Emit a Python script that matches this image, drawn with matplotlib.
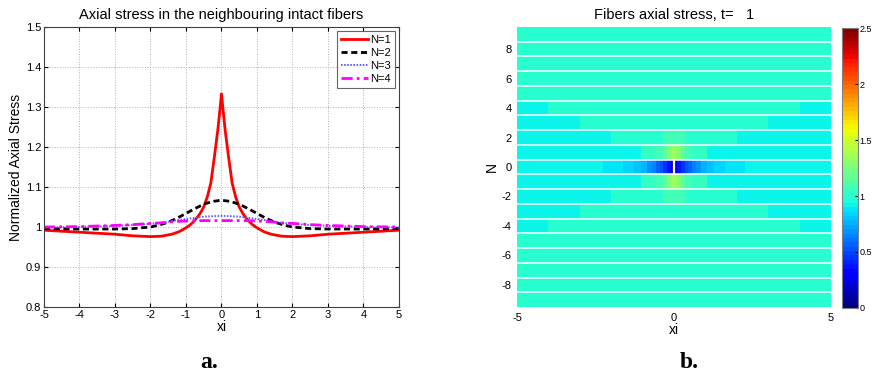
import matplotlib
matplotlib.use('Agg')
import matplotlib.pyplot as plt
from matplotlib.ticker import FuncFormatter
import numpy as np

plt.rcParams['font.family'] = ['Liberation Sans', 'DejaVu Sans']
plt.rcParams['axes.unicode_minus'] = False

# --- panel a : courbes de contrainte axiale ---
xi_n1 = [-5, -4, -3, -2.5, -2, -1.7, -1.4, -1.2, -1, -0.9, -0.8, -0.7, -0.6, -0.5,
         -0.4, -0.3, -0.2, -0.1, -0.05, 0, 0.05, 0.1, 0.2, 0.3, 0.4, 0.5, 0.6, 0.7,
         0.8, 0.9, 1, 1.2, 1.4, 1.7, 2, 2.5, 3, 4, 5]
stress_n1 = [0.992, 0.987, 0.982, 0.978, 0.976, 0.977, 0.982, 0.988, 0.998, 1.004,
             1.012, 1.022, 1.034, 1.05, 1.075, 1.11, 1.175, 1.245, 1.288, 1.333, 1.288,
             1.245, 1.175, 1.11, 1.075, 1.05, 1.034, 1.022, 1.012, 1.004, 0.998, 0.988,
             0.982, 0.977, 0.976, 0.978, 0.982, 0.987, 0.992]

xi_n = [-5, -4, -3, -2.5, -2, -1.75, -1.5, -1.25, -1, -0.75, -0.5, -0.25, 0,
        0.25, 0.5, 0.75, 1, 1.25, 1.5, 1.75, 2, 2.5, 3, 4, 5]
stress_n2 = [0.996, 0.995, 0.995, 0.996, 1.0, 1.005, 1.012, 1.022, 1.034, 1.046,
             1.057, 1.064, 1.067, 1.064, 1.057, 1.046, 1.034, 1.022, 1.012, 1.005,
             1.0, 0.996, 0.995, 0.995, 0.996]
stress_n3 = [0.999, 1.0, 1.003, 1.005, 1.008, 1.010, 1.013, 1.017, 1.020, 1.023,
             1.026, 1.027, 1.028, 1.027, 1.026, 1.023, 1.020, 1.017, 1.013, 1.010,
             1.008, 1.005, 1.003, 1.0, 0.999]
stress_n4 = [1.0, 1.001, 1.004, 1.006, 1.009, 1.010, 1.012, 1.014, 1.015, 1.016,
             1.016, 1.016, 1.016, 1.016, 1.016, 1.016, 1.015, 1.014, 1.012, 1.010,
             1.009, 1.006, 1.004, 1.001, 1.0]

# --- panel b : carte des contraintes par fibre ---
fibres = list(range(-9, 10))
# bords des cellules en xi (côté positif, symétrique)
bords_xi = [0.05, 0.11, 0.22, 0.36, 0.46, 0.58, 0.70, 0.86, 1.05, 1.27, 1.62, 2.0,
            2.26, 3.0, 4.0, 5.0]
# valeurs de |N| = 0..9, du centre vers l'extérieur
demi_lignes = [
    [0.12, 0.26, 0.36, 0.44, 0.51, 0.58, 0.64, 0.70, 0.75, 0.80, 0.84, 0.88, 0.88, 0.93, 0.93, 0.93],
    [1.36, 1.32, 1.25, 1.15, 1.08, 1.08, 1.03, 1.03, 1.03, 0.93, 0.93, 0.93, 0.93, 0.93, 0.93, 0.93],
    [1.07, 1.07, 1.07, 1.07, 1.0, 1.0, 1.0, 1.0, 1.0, 1.0, 1.0, 1.0, 0.93, 0.93, 0.93, 0.93],
    [1.0, 1.0, 1.0, 1.0, 1.0, 1.0, 1.0, 1.0, 1.0, 1.0, 1.0, 1.0, 1.0, 1.0, 0.93, 0.93],
    [1.0, 1.0, 1.0, 1.0, 1.0, 1.0, 1.0, 1.0, 1.0, 1.0, 1.0, 1.0, 1.0, 1.0, 1.0, 0.93],
    [1.0] * 16,
    [1.0] * 16,
    [1.0] * 16,
    [1.0] * 16,
    [1.0] * 16,
]
rupture_xi = 0
rupture_n = 0

fig = plt.figure(figsize=(8.74, 3.78), dpi=100)

# ---------- a ----------
ax1 = fig.add_axes([0.0503, 0.1878, 0.4062, 0.7407])
ax1.plot(xi_n1, stress_n1, color='red', lw=2, label='N=1')
ax1.plot(xi_n, stress_n2, color='black', lw=2, ls=(0, (2.2, 1.3)), label='N=2')
ax1.plot(xi_n, stress_n3, color='#5c5cff', lw=1.4, ls=(0, (0.8, 0.8)), label='N=3')
ax1.plot(xi_n, stress_n4, color='magenta', lw=2, ls=(0, (4, 1.5, 1, 1.5)), label='N=4')
ax1.set_xlim(-5, 5)
ax1.set_ylim(0.8, 1.5)
ax1.set_xticks(range(-5, 6))
ax1.set_yticks(np.arange(0.8, 1.51, 0.1))
ax1.yaxis.set_major_formatter(FuncFormatter(lambda v, p: '%g' % round(v, 2)))
ax1.grid(True, ls=':', color='#b0b0b0', lw=0.7)
ax1.tick_params(direction='in', top=True, right=True, length=3, labelsize=8, pad=2)
for s in ax1.spines.values():
    s.set_color('#404040')
    s.set_linewidth(0.8)
ax1.set_title('Axial stress in the neighbouring intact fibers', fontsize=10.5, pad=6)
ax1.set_xlabel('xi', fontsize=10, labelpad=0)
ax1.set_ylabel('Normalized Axial Stress', fontsize=10, labelpad=2)
leg = ax1.legend(loc='upper right', fontsize=8, handlelength=2.4, borderpad=0.35,
                 labelspacing=0.28, handletextpad=0.25, fancybox=False,
                 borderaxespad=0.35)
leg.get_frame().set_edgecolor('#404040')
leg.get_frame().set_linewidth(0.8)

# ---------- b ----------
bords = [-b for b in bords_xi[::-1]] + [0] + bords_xi
lignes = []
for n in fibres:
    d = demi_lignes[abs(n)]
    lignes.append(d[::-1] + d)
Z = np.array(lignes)
y_bords = [n - 0.5 for n in fibres] + [fibres[-1] + 0.5]

ax2 = fig.add_axes([0.5915, 0.1878, 0.3593, 0.7407])
cmap = plt.get_cmap('jet', 64)
mesh = ax2.pcolormesh(bords, y_bords, Z, cmap=cmap, vmin=0, vmax=2.5, shading='flat')
for n in fibres[:-1]:
    ax2.axhline(n + 0.5, color='white', lw=1.1)
ax2.plot([rupture_xi, rupture_xi], [rupture_n - 0.5, rupture_n + 0.5], color='white', lw=1.6)
ax2.set_xlim(-5, 5)
ax2.set_ylim(-9.5, 9.5)
ax2.set_xticks([-5, 0, 5])
ax2.set_yticks(range(-8, 9, 2))
for s in ax2.spines.values():
    s.set_visible(False)
ax2.tick_params(length=0, labelsize=8, pad=4)
ax2.set_title('Fibers axial stress, t=   1', fontsize=10.5, pad=6)
ax2.set_xlabel('xi', fontsize=10, labelpad=0)
ax2.set_ylabel('N', fontsize=10, labelpad=2)

cax = fig.add_axes([0.9634, 0.1852, 0.0183, 0.7407])
cb = fig.colorbar(mesh, cax=cax, ticks=[0, 0.5, 1, 1.5, 2, 2.5])
cb.ax.yaxis.set_major_formatter(FuncFormatter(lambda v, p: '%g' % v))
cb.ax.tick_params(labelsize=6.5, length=2, direction='in', pad=1)
cb.outline.set_edgecolor('#808080')
cb.outline.set_linewidth(0.8)

fig.text(0.239, 0.04, 'a.', fontsize=17, fontweight='bold', family='Liberation Serif',
         ha='center', va='center')
fig.text(0.789, 0.042, 'b.', fontsize=17, fontweight='bold', family='Liberation Serif',
         ha='center', va='center')

fig.savefig('out.png', dpi=100)
